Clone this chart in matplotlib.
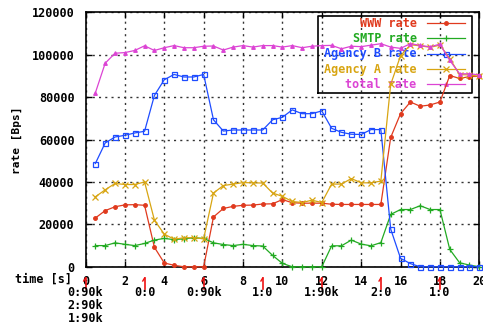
import matplotlib
matplotlib.use("Agg")
import matplotlib.pyplot as plt
import matplotlib.transforms as mtransforms

# ---------------- data ----------------
time_s = [0.5, 1.0, 1.5, 2.0, 2.5, 3.0, 3.5, 4.0, 4.5, 5.0,
          5.5, 6.0, 6.5, 7.0, 7.5, 8.0, 8.5, 9.0, 9.5, 10.0,
          10.5, 11.0, 11.5, 12.0, 12.5, 13.0, 13.5, 14.0, 14.5, 15.0,
          15.5, 16.0, 16.5, 17.0, 17.5, 18.0, 18.5, 19.0, 19.5, 20.0]

www_rate = [23000, 26500, 28300, 29200, 29300, 29000, 9200, 1800, 700, 0,
            0, 0, 23500, 27500, 28500, 29000, 29100, 29600, 29700, 31700,
            30200, 30000, 30000, 30000, 29500, 29400, 29400, 29400, 29400, 29400,
            61000, 72200, 77700, 75700, 76300, 77700, 90200, 88800, 89700, 89800]

smtp_rate = [10000, 10000, 11300, 10600, 10000, 11000, 12600, 13400, 12800, 13200,
             13700, 13400, 11300, 10500, 10000, 10600, 10000, 9800, 5400, 1600,
             0, 0, 0, 0, 9900, 9900, 12600, 10700, 9900, 11400,
             24700, 27000, 27000, 28800, 27000, 27000, 8200, 1900, 800, 0]

agency_b_rate = [48700, 58400, 61200, 62000, 63100, 63900, 80800, 88200, 90700, 89500,
                 89500, 90700, 69300, 64000, 64500, 64500, 64500, 64500, 69300, 70500,
                 74000, 72200, 72200, 73500, 65300, 63400, 62500, 62400, 64700, 64700,
                 17800, 4000, 1500, 0, 0, 0, 0, 0, 0, 0]

agency_a_rate = [33000, 36300, 39300, 38800, 38800, 40000, 22000, 15400, 13000, 13700,
                 13700, 13200, 34800, 38300, 39000, 39700, 39600, 39500, 34800, 33200,
                 30800, 30300, 31400, 30300, 39000, 39000, 41600, 39600, 39600, 40400,
                 86000, 99500, 104700, 104200, 103500, 104500, 98200, 90600, 90500, 89800]

total_rate = [82000, 96000, 100700, 101000, 102000, 104200, 102000, 103300, 104300, 103300,
              103300, 104000, 104100, 102200, 103600, 104300, 103600, 104300, 104300, 103600,
              104300, 103300, 104000, 104300, 104400, 102800, 104000, 103800, 104500, 105200,
              103600, 103000, 105200, 104400, 103700, 105000, 97300, 91000, 91000, 90500]

series_labels = ["WWW rate", "SMTP rate", "Agency B rate", "Agency A rate", "total rate"]

x_ticks = [0, 2, 4, 6, 8, 10, 12, 14, 16, 18, 20]
y_ticks = [0, 20000, 40000, 60000, 80000, 100000, 120000]

event_times = [0, 3, 6, 9, 12, 15, 18]
event_labels = ["0:90k\n2:90k\n1:90k", "0:0", "0:90k", "1:0", "1:90k", "2:0", "1:0"]

# ---------------- style ----------------
FONT = "DejaVu Sans Mono"
FS = 8.5
colors = ["#e03a1e", "#22aa22", "#1e4cff", "#d8a512", "#dc44d4"]
markers = ["o", "+", "s", "x", "^"]
msizes = [2.6, 4.5, 3.6, 4.0, 2.6]
mfcs = [None, None, "none", None, None]

W, H = 483, 324
fig = plt.figure(figsize=(W / 100, H / 100), dpi=100)
ax_l, ax_r, ax_t, ax_b = 85.5, 479.3, 12.3, 266.8
ax = fig.add_axes([ax_l / W, 1 - ax_b / H, (ax_r - ax_l) / W, (ax_b - ax_t) / H])

ax.set_xlim(0, 20)
ax.set_ylim(0, 120000)

series = [www_rate, smtp_rate, agency_b_rate, agency_a_rate, total_rate]
for vals, c, m, ms, mfc in zip(series, colors, markers, msizes, mfcs):
    kw = dict(color=c, lw=0.9, marker=m, ms=ms, mew=0.9, zorder=3, clip_on=False)
    if mfc is not None:
        kw["mfc"] = mfc
    ax.plot(time_s, vals, **kw)

# grid
ax.set_xticks(x_ticks)
ax.set_yticks(y_ticks)
ax.grid(True, color="#333333", lw=1.0, linestyle=(0, (1.5, 3.0)))
ax.set_axisbelow(True)
for s in ax.spines.values():
    s.set_linewidth(1.2)
    s.set_color("black")
ax.tick_params(direction="in", length=4, width=1, top=True, right=True,
               labelsize=FS, pad=6)
ax.set_xticklabels([str(v) for v in x_ticks], fontfamily=FONT, fontweight="bold")
ax.set_yticklabels([str(v) for v in y_ticks], fontfamily=FONT, fontweight="bold")
ax.tick_params(axis="y", pad=8)

# axis labels
fig.text(17 / W, 1 - 140 / H, "rate [Bps]", rotation=90, ha="center", va="center",
         fontfamily=FONT, fontweight="bold", fontsize=8)
fig.text(15 / W, 1 - 279 / H, "time [s]", ha="left", va="center",
         fontfamily=FONT, fontweight="bold", fontsize=FS)

# legend drawn manually (right-aligned texts like gnuplot key)
def axy(py):
    return (ax_b - py) / (ax_b - ax_t)

def axx(px):
    return (px - ax_l) / (ax_r - ax_l)

bx0, bx1, by0, by1 = axx(318.3), axx(471.7), axy(92.7), axy(16)
ax.plot([bx0, bx1, bx1, bx0, bx0], [by0, by0, by1, by1, by0], color="black",
        lw=1.2, transform=ax.transAxes, zorder=2, clip_on=False)
entry_py = [23.3, 38.3, 54.0, 69.3, 84.3]
for lab, c, m, ms, mfc, py in zip(series_labels, colors, markers, msizes, mfcs, entry_py):
    yy = axy(py)
    ax.text(axx(416.7), yy, lab, color=c, ha="right", va="center",
            fontfamily=FONT, fontweight="bold", fontsize=FS,
            transform=ax.transAxes, zorder=2)
    ax.plot([axx(426.7), axx(465)], [yy, yy], color=c, lw=0.9,
            transform=ax.transAxes, zorder=2)
    kw = dict(color=c, marker=m, ms=ms, mew=0.9, lw=0)
    if mfc is not None:
        kw["mfc"] = mfc
    ax.plot([axx(446)], [yy], transform=ax.transAxes, zorder=2, **kw)

# event markers and labels under x axis
trans = mtransforms.blended_transform_factory(ax.transData, fig.transFigure)
px_per_unit = (ax_r - ax_l) / 20.0
for t, lab in zip(event_times, event_labels):
    ax.plot([t, t], [1 - 289 / H, 1 - 278 / H], color="#ee1111", lw=1.2,
            transform=trans, clip_on=False)
    ax.plot([t - 1.8 / px_per_unit, t], [1 - 281 / H, 1 - 278 / H], color="#ee1111",
            lw=1.0, transform=trans, clip_on=False)
    fig.text(0, 0, lab, transform=trans) if False else None
    ax.text(t, 1 - 286 / H, lab, transform=trans, ha="center", va="top",
            fontfamily=FONT, fontweight="bold", fontsize=FS, linespacing=0.98,
            color="black")

fig.savefig("out.png", dpi=100)
